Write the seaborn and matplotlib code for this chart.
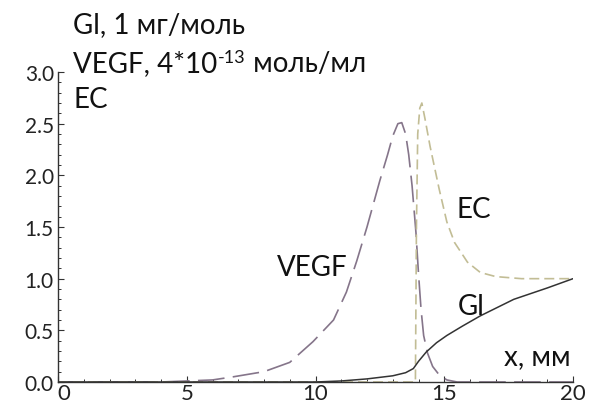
import numpy as np
import pandas as pd
import seaborn as sns
import matplotlib
matplotlib.use("Agg")
import matplotlib.pyplot as plt
import matplotlib.transforms as mtransforms
from matplotlib.ticker import MultipleLocator, FormatStrFormatter

# ---- data ----
gl_x = [0, 10, 11, 12, 13, 13.5, 13.8, 14.0, 14.3, 14.7, 15.1, 15.7, 16.4, 17.7, 19.0, 20.0]
gl_y = [0, 0.0, 0.01, 0.03, 0.06, 0.09, 0.13, 0.2, 0.29, 0.38, 0.45, 0.54, 0.64, 0.8, 0.91, 1.0]

vegf_x = [0, 4, 5, 6, 6.8, 8, 9, 9.9, 10.7, 11.2, 11.6, 12.0, 12.5, 12.8, 13.0, 13.2, 13.35,
          13.5, 13.62, 13.75, 13.9, 14.0, 14.1, 14.2, 14.35, 14.55, 14.8, 15.1, 15.5, 20]
vegf_y = [0, 0.0, 0.01, 0.02, 0.05, 0.1, 0.19, 0.39, 0.6, 0.87, 1.17, 1.5, 1.95, 2.2, 2.38, 2.5, 2.51,
          2.4, 2.2, 1.9, 1.45, 1.05, 0.7, 0.45, 0.28, 0.15, 0.07, 0.02, 0.0, 0.0]

ec_x = [0, 13.88, 13.92, 13.97, 14.05, 14.13, 14.25, 14.45, 14.8, 15.1, 15.4, 15.9, 16.4, 17.0, 18.0, 20.0]
ec_y = [0, 0.0, 1.5, 2.4, 2.65, 2.7, 2.55, 2.28, 1.87, 1.55, 1.35, 1.16, 1.06, 1.02, 1.0, 1.0]

x_ticks = [0, 5, 10, 15, 20]
y_ticks = [0.0, 0.5, 1.0, 1.5, 2.0, 2.5, 3.0]

header_gl = "Gl, 1 мг/моль"
header_vegf = ["VEGF, 4*10", "-13", " моль/мл"]
header_ec = "EC"

sns.set_theme(style="ticks")
plt.rcParams["font.family"] = ["Lato", "DejaVu Sans"]

W, H = 602, 406
fig = plt.figure(figsize=(W / 100, H / 100), dpi=100)
ax = fig.add_axes([58 / W, 23 / H, (573 - 58) / W, (383 - 73) / H])

df_gl = pd.DataFrame({"x": gl_x, "y": gl_y})
df_vegf = pd.DataFrame({"x": vegf_x, "y": vegf_y})
df_ec = pd.DataFrame({"x": ec_x, "y": ec_y})

sns.lineplot(data=df_vegf, x="x", y="y", ax=ax, color="#85758a", lw=1.2,
             sort=False, estimator=None)
ax.lines[-1].set_dashes([16, 5])
sns.lineplot(data=df_ec, x="x", y="y", ax=ax, color="#c2bd95", lw=1.2,
             sort=False, estimator=None)
ax.lines[-1].set_dashes([6, 3])
sns.lineplot(data=df_gl, x="x", y="y", ax=ax, color="#333333", lw=1.1,
             sort=False, estimator=None)

ax.set_xlim(0, 20)
ax.set_ylim(0, 3.0)
ax.set_xticks(x_ticks)
ax.set_yticks(y_ticks)
ax.xaxis.set_minor_locator(MultipleLocator(1))
ax.yaxis.set_minor_locator(MultipleLocator(0.1))
ax.yaxis.set_major_formatter(FormatStrFormatter("%.1f"))
ax.set_xlabel("")
ax.set_ylabel("")
for s in ["top", "right"]:
    ax.spines[s].set_visible(False)
for s in ["left", "bottom"]:
    ax.spines[s].set_color("#333333")
    ax.spines[s].set_linewidth(1.0)
ax.tick_params(which="major", direction="in", length=4.5, width=0.8, colors="#333333",
               labelsize=15, labelcolor="#222222")
ax.tick_params(which="minor", direction="in", length=2.5, width=0.7, colors="#333333")
ax.tick_params(axis="x", which="major", pad=1, labelsize=16)
ax.tick_params(axis="y", which="major", pad=3)
ax.patch.set_alpha(0)

# shift the "0" x label a little to the right, as in the reference
first_lab = ax.xaxis.get_major_ticks()[0].label1
first_lab.set_transform(first_lab.get_transform() +
                        mtransforms.ScaledTranslation(6 / 100, 0, fig.dpi_scale_trans))

# in-plot labels
lab_kw = dict(fontsize=20, ha="center", va="center", color="#111111")
ax.text(9.87, 1.11, "VEGF", **lab_kw)
ax.text(16.16, 1.67, "EC", **lab_kw)
ax.text(16.04, 0.74, "Gl", **lab_kw)
ax.text(18.6, 0.25, "x, мм", **lab_kw)

# header lines
hk = dict(fontsize=20, ha="left", va="baseline", color="#111111")
fig.text(73 / W, 1 - 33 / H, header_gl, **hk)
fig.text(73 / W, 1 - 108 / H, header_ec, **hk)
renderer = fig.canvas.get_renderer()
t1 = fig.text(73 / W, 1 - 72 / H, header_vegf[0], **hk)
bb1 = t1.get_window_extent(renderer)
t2 = fig.text(bb1.x1 / W + 1 / W, 1 - 63 / H, header_vegf[1], fontsize=13,
              ha="left", va="baseline", color="#111111")
bb2 = t2.get_window_extent(renderer)
fig.text(bb2.x1 / W, 1 - 72 / H, header_vegf[2], **hk)

fig.savefig("out.png", dpi=100, facecolor="white")
